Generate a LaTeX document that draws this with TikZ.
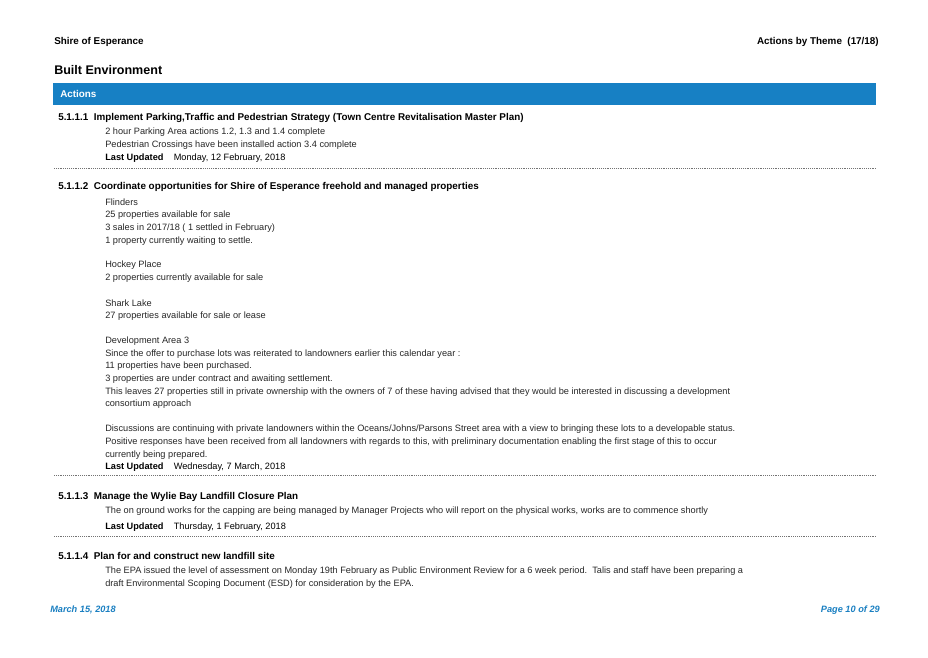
\documentclass[tikz,border=0pt]{standalone}
\usepackage{fontspec}
\setmainfont{Liberation Sans}
\definecolor{barblue}{HTML}{1780C4}
\definecolor{footblue}{HTML}{1A7FC1}
\begin{document}
\begin{tikzpicture}[x=0.75pt,y=-0.75pt,
  body/.style={anchor=west,inner sep=0pt,font=\fontsize{6.9}{8}\selectfont,text=black!85},
  head/.style={anchor=west,inner sep=0pt,font=\fontsize{7.4}{9}\selectfont\bfseries},
  lu/.style={anchor=west,inner sep=0pt,font=\fontsize{6.9}{8}\selectfont\bfseries},
  sep/.style={densely dotted,black!55,line width=0.4pt}]
\useasboundingbox (0,0) rectangle (928,657);
\node[head] (t1) at (54,42) {Shire of Esperance};
\node[head,anchor=east] (t2) at (879,42) {Actions by Theme\ \ (17/18)};
\node[anchor=west,inner sep=0pt,font=\fontsize{9.4}{11}\selectfont\bfseries] (t3) at (54,70) {Built Environment};
\fill[barblue] (53,83) rectangle (876,105);
\node[head,text=white] (t4) at (60,94) {Actions};

\node[head] (h1) at (58,118) {5.1.1.1\ \ Implement Parking,Traffic and Pedestrian Strategy (Town Centre Revitalisation Master Plan)};
\node[body] (a1) at (105,132) {2 hour Parking Area actions 1.2, 1.3 and 1.4 complete};
\node[body] (a2) at (105,145) {Pedestrian Crossings have been installed action 3.4 complete};
\node[lu] (a3) at (105,158) {Last Updated\ \ \ \ \mdseries Monday, 12 February, 2018};
\draw[sep] (54,168) -- (876,168);

\node[head] (h2) at (58,187) {5.1.1.2\ \ Coordinate opportunities for Shire of Esperance freehold and managed properties};
\node[body] (b1) at (105,202) {Flinders};
\node[body] (b2) at (105,215) {25 properties available for sale};
\node[body] (b3) at (105,228) {3 sales in 2017/18 ( 1 settled in February)};
\node[body] (b4) at (105,241) {1 property currently waiting to settle.};
\node[body] (b5) at (105,265) {Hockey Place};
\node[body] (b6) at (105,278) {2 properties currently available for sale};
\node[body] (b7) at (105,303) {Shark Lake};
\node[body] (b8) at (105,316) {27 properties available for sale or lease};
\node[body] (b9) at (105,341) {Development Area 3};
\node[body] (b10) at (105,354) {Since the offer to purchase lots was reiterated to landowners earlier this calendar year :};
\node[body] (b11) at (105,366) {11 properties have been purchased.};
\node[body] (b12) at (105,379) {3 properties are under contract and awaiting settlement.};
\node[body] (b13) at (105,392) {This leaves 27 properties still in private ownership with the owners of 7 of these having advised that they would be interested in discussing a development};
\node[body] (b14) at (105,404) {consortium approach};
\node[body] (b15) at (105,429) {Discussions are continuing with private landowners within the Oceans/Johns/Parsons Street area with a view to bringing these lots to a developable status.};
\node[body] (b16) at (105,442) {Positive responses have been received from all landowners with regards to this, with preliminary documentation enabling the first stage of this to occur};
\node[body] (b17) at (105,455) {currently being prepared.};
\node[lu] (b18) at (105,467) {Last Updated\ \ \ \ \mdseries Wednesday, 7 March, 2018};
\draw[sep] (54,475) -- (876,475);

\node[head] (h3) at (58,497) {5.1.1.3\ \ Manage the Wylie Bay Landfill Closure Plan};
\node[body] (c1) at (105,511) {The on ground works for the capping are being managed by Manager Projects who will report on the physical works, works are to commence shortly};
\node[lu] (c2) at (105,527) {Last Updated\ \ \ \ \mdseries Thursday, 1 February, 2018};
\draw[sep] (54,536) -- (876,536);

\node[head] (h4) at (58,556) {5.1.1.4\ \ Plan for and construct new landfill site};
\node[body] (d1) at (105,571) {The EPA issued the level of assessment on Monday 19th February as Public Environment Review for a 6 week period.\ \ Talis and staff have been preparing a};
\node[body] (d2) at (105,584) {draft Environmental Scoping Document (ESD) for consideration by the EPA.};

\node[anchor=west,inner sep=0pt,font=\fontsize{6.9}{8}\selectfont\bfseries\itshape,text=footblue] (f1) at (50,610) {March 15, 2018};
\node[anchor=east,inner sep=0pt,font=\fontsize{6.9}{8}\selectfont\bfseries\itshape,text=footblue] (f2) at (880,610) {Page 10 of 29};
\end{tikzpicture}
\end{document}
